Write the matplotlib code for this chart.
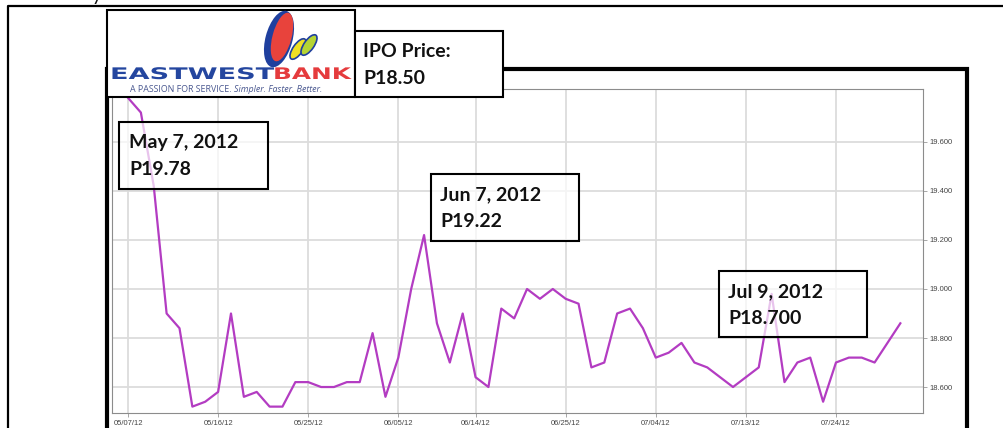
import matplotlib
matplotlib.use('Agg')
import matplotlib.pyplot as plt
from matplotlib.patches import Rectangle, Ellipse
from matplotlib.lines import Line2D
from matplotlib.transforms import Affine2D
from matplotlib.patheffects import AbstractPathEffect

# closing price per trading day, 05/07/12 .. 07/31/12
price = [19.78, 19.72, 19.42, 18.90, 18.84, 18.52, 18.54, 18.58, 18.90, 18.56,
         18.58, 18.52, 18.52, 18.62, 18.62, 18.60, 18.60, 18.62, 18.62, 18.82,
         18.56, 18.72, 19.00, 19.22, 18.86, 18.70, 18.90, 18.64, 18.60, 18.92,
         18.88, 19.00, 18.96, 19.00, 18.96, 18.94, 18.68, 18.70, 18.90, 18.92,
         18.84, 18.72, 18.74, 18.78, 18.70, 18.68, 18.64, 18.60, 18.64, 18.68,
         18.98, 18.62, 18.70, 18.72, 18.54, 18.70, 18.72, 18.72, 18.70, 18.78,
         18.86]
tick_days = [0, 7, 14, 21, 27, 34, 41, 48, 55]
tick_labels = ['05/07/12', '05/16/12', '05/25/12', '06/05/12', '06/14/12',
               '06/25/12', '07/04/12', '07/13/12', '07/24/12']
y_ticks = [18.6, 18.8, 19.0, 19.2, 19.4, 19.6]
callouts = [('May 7, 2012', 'P19.78'), ('Jun 7, 2012', 'P19.22'), ('Jul 9, 2012', 'P18.700')]
ipo = ('IPO Price:', 'P18.50')

W, H = 1004, 428
fig = plt.figure(figsize=(W / 100, H / 100), dpi=100)
# pixel coords of the picture (y down) -> figure
pix = Affine2D().scale(1 / W, -1 / H).translate(0, 1) + fig.transFigure


class Stretch(AbstractPathEffect):
    def __init__(self, sx=1.0, sy=1.0):
        super().__init__()
        self.sx, self.sy = sx, sy

    def draw_path(self, renderer, gc, tpath, affine, rgbFace=None):
        x0, y0 = affine.transform((0, 0))
        aff = affine + Affine2D().translate(-x0, -y0).scale(self.sx, self.sy).translate(x0, y0)
        renderer.draw_path(gc, tpath, aff, rgbFace)


ax = fig.add_axes([112 / W, 1 - 413 / H, (923 - 112) / W, (413 - 89) / H])
ax.plot(range(len(price)), price, color='#b33cc2', lw=1.6, zorder=3)
ax.set_xlim(-1.243, 61.76)
ax.set_ylim(18.494, 19.816)
ax.set_xticks(tick_days, tick_labels)
ax.yaxis.tick_right()
ax.set_yticks(y_ticks, ['%.3f' % v for v in y_ticks])
ax.tick_params(length=3, width=0.6, color='#999999', pad=2, labelsize=5.5, labelcolor='#444444')
for lab in ax.get_xticklabels() + ax.get_yticklabels():
    lab.set_family('Liberation Sans')
ax.grid(color='#dcdcdc', lw=1.3)
ax.set_axisbelow(True)
for s in ax.spines.values():
    s.set_color('#8c8c8c')
    s.set_linewidth(0.8)

# page frames
fig.add_artist(Line2D([8, 8, 1004], [440, 6, 6], color='black', lw=1.6, transform=pix))
fig.add_artist(Line2D([107, 107, 967, 967], [440, 69, 69, 440], color='black', lw=3, transform=pix,
                      solid_joinstyle='miter'))
fig.text(92, 1, 'y', transform=pix, fontsize=14, family='Lato', color='#111111', va='baseline')


def box(x0, y0, x1, y1, face='white'):
    fig.add_artist(Rectangle((x0, y0), x1 - x0, y1 - y0, transform=pix, facecolor=face,
                             edgecolor='black', lw=1.5, zorder=4))


def two_lines(x, y0, lines):
    for k, t in enumerate(lines):
        fig.text(x, y0 + 27 * k, t, transform=pix, fontsize=14, family='Lato', weight='bold',
                 color='#111111', va='baseline', ha='left', zorder=5)


# logo
box(107, 10, 355, 97)
fig.add_artist(Ellipse((279, 39), 27, 58, angle=15, transform=pix, facecolor='#1f3f9e', zorder=5))
fig.add_artist(Ellipse((282, 37), 19, 50, angle=15, transform=pix, facecolor='#e8433c', zorder=5))
fig.add_artist(Ellipse((298, 49), 10, 24, angle=35, transform=pix, facecolor='#f0e023',
                       edgecolor='#1f3f9e', lw=1.2, zorder=5))
fig.add_artist(Ellipse((309, 45), 10, 24, angle=35, transform=pix, facecolor='#b5d433',
                       edgecolor='#1f3f9e', lw=1.2, zorder=5))
fig.text(110, 79, 'EASTWEST', transform=pix, fontsize=11.5, family='DejaVu Sans', weight='bold',
         color='#24469f', va='baseline', zorder=5, path_effects=[Stretch(1.7, 1.0)])
fig.text(273, 79, 'BANK', transform=pix, fontsize=11.5, family='DejaVu Sans', weight='bold',
         color='#e53b3d', va='baseline', zorder=5, path_effects=[Stretch(1.55, 1.0)])
fig.text(130, 92, 'A PASSION FOR SERVICE.', transform=pix, fontsize=6.4, family='Open Sans',
         color='#4a5890', va='baseline', zorder=5)
fig.text(234, 92, 'Simpler. Faster. Better.', transform=pix, fontsize=6.4, family='Open Sans',
         style='italic', color='#4a5890', va='baseline', zorder=5)

# IPO price
box(355, 31, 503, 97)
two_lines(363, 57, ipo)

# callouts
box(119, 122, 268, 189, face=(1, 1, 1, 0.7))
two_lines(129, 148, callouts[0])
box(431, 174, 579, 241, face=(1, 1, 1, 0.7))
two_lines(440, 200, callouts[1])
box(719, 271, 867, 337, face=(1, 1, 1, 0.7))
two_lines(728, 297, callouts[2])

fig.savefig('out.png', dpi=100)
